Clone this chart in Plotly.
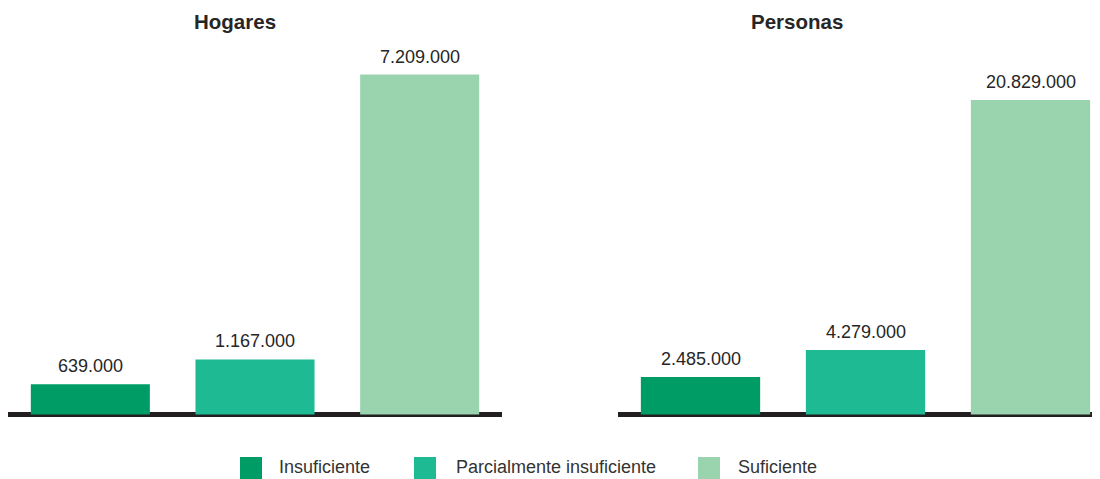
import plotly.graph_objects as go

categories = ["Insuficiente", "Parcialmente insuficiente", "Suficiente"]
hogares = [639000, 1167000, 7209000]
personas = [2485000, 4279000, 20829000]
panel_titles = ["Hogares", "Personas"]
colors = ["#009c66", "#1dba93", "#9ad4ae"]

W, H = 1100, 479
OFF = 8  # page body margin
FONT = "Liberation Sans, Arial, sans-serif"
TXT = "#262626"


def px(xs):
    return (xs - OFF) / W


def py(ys):
    return (H - (ys - OFF)) / H


fig = go.Figure()
panels = [(hogares, "x", "y"), (personas, "x2", "y2")]
for i, cat in enumerate(categories):
    for vals, xa, ya in panels:
        fig.add_trace(go.Bar(
            x=[cat], y=[vals[i]], xaxis=xa, yaxis=ya,
            marker=dict(color=colors[i], line=dict(width=0)),
            name=cat, showlegend=False, hoverinfo="skip",
        ))

annotations = []
for vals, xa, ya in panels:
    for cat, v in zip(categories, vals):
        annotations.append(dict(
            x=cat, y=v, xref=xa, yref=ya, text=f"{v:,}".replace(",", "."),
            showarrow=False, yanchor="bottom", xanchor="center", yshift=6,
            font=dict(size=18, color=TXT, family=FONT),
        ))

# panel titles
for t, xc in zip(panel_titles, [235, 797]):
    annotations.append(dict(
        text="<b>" + t + "</b>", x=px(xc), y=py(21), xref="paper", yref="paper",
        showarrow=False, xanchor="center", yanchor="middle",
        font=dict(size=20.5, color=TXT, family=FONT),
    ))

# custom legend
shapes = []
sq_left = [240, 414, 698]
txt_left = [277, 454, 736]
for cat, c, sx, tx in zip(categories, colors, sq_left, txt_left):
    shapes.append(dict(type="rect", xref="paper", yref="paper",
                       x0=px(sx), x1=px(sx + 22), y0=py(479), y1=py(457),
                       fillcolor=c, line=dict(width=0)))
    annotations.append(dict(text=cat, x=px(tx), y=py(467), xref="paper", yref="paper",
                            showarrow=False, xanchor="left", yanchor="middle",
                            font=dict(size=18, color="#333333", family=FONT)))

# vertical geometry (screen px)
zero_s, top_s, bot_s = 414.5, 40.0, 418.0
k1 = (zero_s - 74.5) / hogares[2]
k2 = (zero_s - 100.0) / personas[2]

common_x = dict(showgrid=False, zeroline=False, showline=False, ticks="",
                showticklabels=False, fixedrange=True, categoryorder="array",
                categoryarray=categories)
common_y = dict(showgrid=False, zeroline=True, zerolinecolor="#231f20", zerolinewidth=5,
                showline=False, showticklabels=False, ticks="", fixedrange=True,
                domain=[py(bot_s), py(top_s)])

slot = 165.0
right_end = -0.5 + (W + OFF - 618) / slot

fig.update_layout(
    width=W, height=H,
    margin=dict(l=0, r=0, t=0, b=0),
    paper_bgcolor="white", plot_bgcolor="white",
    barmode="relative", bargap=0.277,
    font=dict(family=FONT, color=TXT, size=16),
    showlegend=False,
    xaxis=dict(domain=[px(8), px(502)], range=[-0.5, 2.5], **common_x),
    xaxis2=dict(domain=[px(618), 1.0], range=[-0.5, right_end], **common_x),
    yaxis=dict(range=[-(bot_s - zero_s) / k1, (zero_s - top_s) / k1], anchor="x", **common_y),
    yaxis2=dict(range=[-(bot_s - zero_s) / k2, (zero_s - top_s) / k2], anchor="x2", **common_y),
    annotations=annotations,
    shapes=shapes,
)

fig.write_html("out.html")
